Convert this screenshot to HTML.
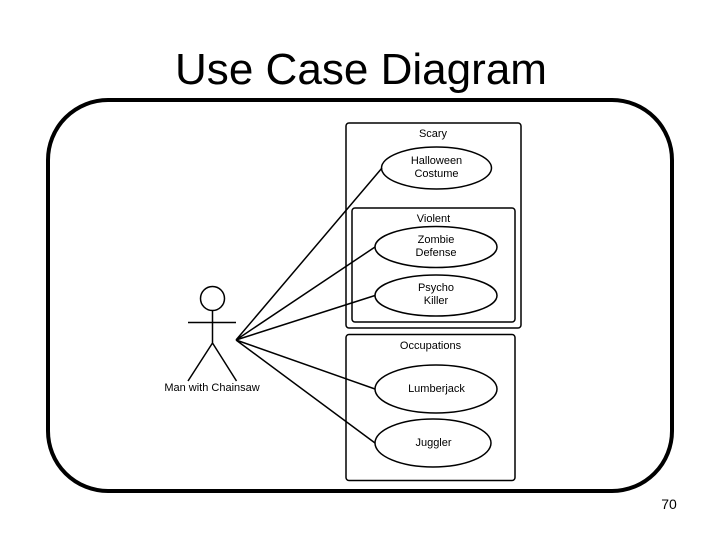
<!DOCTYPE html>
<html>
<head>
<meta charset="utf-8">
<style>
html,body{margin:0;padding:0;background:#fff;width:720px;height:540px;overflow:hidden}
svg{display:block;position:absolute;left:0;top:0}
text{font-family:"Liberation Sans",sans-serif;fill:#000}
</style>
</head>
<body>
<svg width="720" height="540" viewBox="0 0 720 540" xmlns="http://www.w3.org/2000/svg">
<text x="361" y="84" font-size="44" text-anchor="middle" textLength="372" lengthAdjust="spacingAndGlyphs">Use Case Diagram</text>
<rect x="48" y="100" width="624" height="391" rx="60" ry="60" fill="none" stroke="#000" stroke-width="4"/>
<text x="669" y="509" font-size="14" text-anchor="middle">70</text>
<g style="filter:blur(0.35px)" fill="none" stroke="#000" stroke-width="1.5">
<rect x="346" y="123" width="175" height="205" rx="3"/>
<rect x="352" y="208" width="163" height="114" rx="3"/>
<rect x="346" y="334.500" width="169" height="146" rx="3"/>
<ellipse cx="436.500" cy="168" rx="55" ry="21"/>
<ellipse cx="436" cy="247" rx="61" ry="20.500"/>
<ellipse cx="436" cy="295.500" rx="61" ry="20.500"/>
<ellipse cx="436" cy="389" rx="61" ry="24"/>
<ellipse cx="433" cy="443" rx="58" ry="24"/>
<circle cx="212.500" cy="298.500" r="12"/>
<path d="M188 322.500H236M212.500 310.500V343M212.500 343L188 381M212.500 343L236.500 381"/>
<path d="M236 340L382 168M236 340L375 247M236 340L375 295.500M236 340L375 389M236 340L375 443"/>
</g>
<g style="filter:blur(0.35px)" font-size="11" text-anchor="middle">
<text x="433" y="137">Scary</text>
<text x="436.500" y="164">Halloween</text>
<text x="436.500" y="177">Costume</text>
<text x="433.500" y="222">Violent</text>
<text x="436" y="243">Zombie</text>
<text x="436" y="256">Defense</text>
<text x="436" y="291">Psycho</text>
<text x="436" y="304">Killer</text>
<text x="430.500" y="349">Occupations</text>
<text x="436.500" y="392">Lumberjack</text>
<text x="433.500" y="446">Juggler</text>
<text x="212" y="391">Man with Chainsaw</text>
</g>
</svg>
</body>
</html>
